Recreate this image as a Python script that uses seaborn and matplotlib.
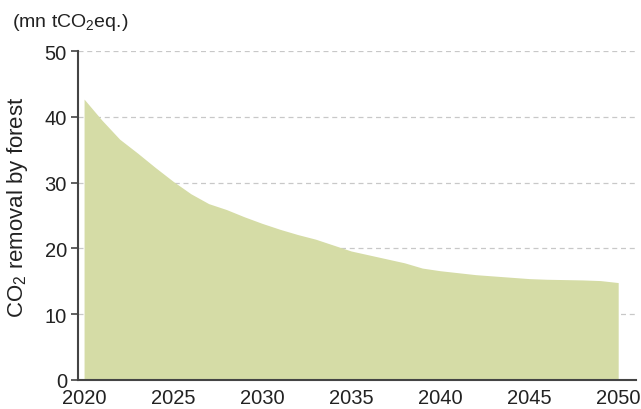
import matplotlib.pyplot as plt
import seaborn as sns
import pandas as pd

# CO2 removal by forest, mn tCO2eq.
years = list(range(2020, 2051))
removal = [42.7, 39.5, 36.6, 34.5, 32.3, 30.2, 28.3, 26.8, 25.9, 24.8,
           23.8, 22.9, 22.1, 21.4, 20.5, 19.6, 19.0, 18.4, 17.8, 17.0,
           16.6, 16.3, 16.0, 15.8, 15.6, 15.4, 15.3, 15.25, 15.2, 15.1, 14.8]
xticks = [2020, 2025, 2030, 2035, 2040, 2045, 2050]
yticks = [0, 10, 20, 30, 40, 50]

df = pd.DataFrame({'year': years, 'removal': removal})

sns.set_style("white")
plt.rcParams['font.family'] = ['Liberation Sans', 'DejaVu Sans']
plt.rcParams['mathtext.default'] = 'regular'

fig = plt.figure(figsize=(6.41, 4.10), dpi=100)
ax = fig.add_axes([0.1217, 0.071, 0.8705, 0.802])

sns.lineplot(data=df, x='year', y='removal', ax=ax, linewidth=0, color='#d5dca6')
ax.fill_between(df['year'], df['removal'], 0, color='#d5dca6', linewidth=0)

ax.set_xlim(2019.66, 2051.0)
ax.set_ylim(0, 50)
ax.set_xticks(xticks)
ax.set_yticks(yticks)
ax.tick_params(axis='y', direction='out', length=5, width=1.2, color='#444444',
               labelsize=14.5, labelcolor='#222222', pad=3, left=True)
ax.tick_params(axis='x', length=0, labelsize=14.5, labelcolor='#222222', pad=6)
for y in yticks[1:]:
    ax.axhline(y, color='#c8c8c8', linestyle=(0, (4, 3)), linewidth=0.9, zorder=0)

sns.despine(ax=ax)
ax.spines['left'].set_color('#444444')
ax.spines['bottom'].set_color('#444444')
ax.spines['left'].set_linewidth(1.5)
ax.spines['bottom'].set_linewidth(1.5)

ax.set_xlabel('')
ax.set_ylabel('CO$_2$ removal by forest', fontsize=16, color='#222222')
ax.yaxis.set_label_coords(-0.086, 0.527)
fig.text(0.018, 0.945, '(mn tCO$_2$eq.)', fontsize=14, color='#222222', va='center')

fig.savefig('out.png', dpi=100)
